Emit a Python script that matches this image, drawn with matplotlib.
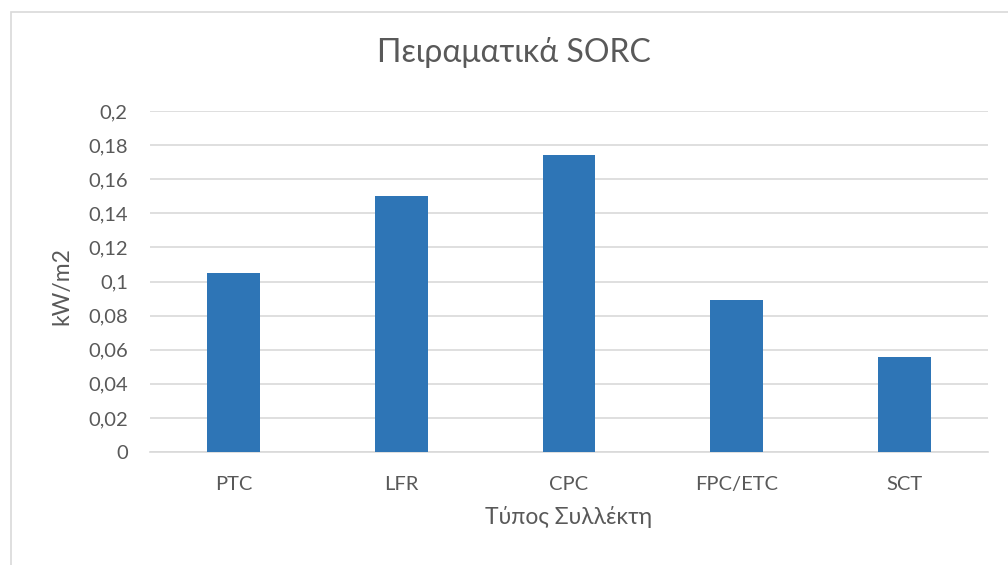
import matplotlib
matplotlib.use("Agg")
import matplotlib.pyplot as plt
from matplotlib.patches import Rectangle
from matplotlib.ticker import FuncFormatter

categories = ["PTC", "LFR", "CPC", "FPC/ETC", "SCT"]
values = [0.105, 0.150, 0.174, 0.089, 0.056]
yticks = [0, 0.02, 0.04, 0.06, 0.08, 0.1, 0.12, 0.14, 0.16, 0.18, 0.2]

plt.rcParams['font.family'] = ['Lato', 'DejaVu Sans']
text_color = '#595959'

fig = plt.figure(figsize=(10.08, 5.65), dpi=100)
W, H = 1008, 565
ax = fig.add_axes([150 / W, 1 - 452 / H, (988 - 150) / W, (452 - 111) / H])

# outer chart border (partially visible)
fig.patches.append(Rectangle((11 / W, -0.1), 1.2, (1 - 12 / H) + 0.1, transform=fig.transFigure,
                             fill=False, edgecolor='#D9D9D9', linewidth=1.2))

x = range(len(categories))
ax.bar(x, values, width=0.316, color='#2E75B6', zorder=3)
ax.set_xlim(-0.5, len(categories) - 0.5)
ax.set_ylim(0, 0.2)
ax.set_yticks(yticks)
ax.yaxis.set_major_formatter(FuncFormatter(lambda v, p: ('%g' % round(v, 2)).replace('.', ',')))
ax.set_xticks(list(x))
ax.set_xticklabels(categories)
ax.grid(axis='y', color='#D9D9D9', linewidth=1.2, zorder=0)
for s in ['top', 'right', 'left']:
    ax.spines[s].set_visible(False)
ax.spines['bottom'].set_color('#D9D9D9')
ax.spines['bottom'].set_linewidth(1.2)
ax.tick_params(axis='both', length=0, labelsize=14.5, colors=text_color)
ax.tick_params(axis='y', pad=16)
ax.tick_params(axis='x', pad=17)
ax.set_xlabel('Τύπος Συλλέκτη', fontsize=16.5, color=text_color, labelpad=10)
fig.text(62 / W, 1 - 286 / H, 'kW/m2', rotation=90, ha='center', va='center',
         fontsize=16.5, color=text_color)
fig.text(514 / W, 1 - 62 / H, 'Πειραματικά SORC', ha='center', va='baseline',
         fontsize=23, color=text_color)

fig.savefig('out.png', dpi=100)
